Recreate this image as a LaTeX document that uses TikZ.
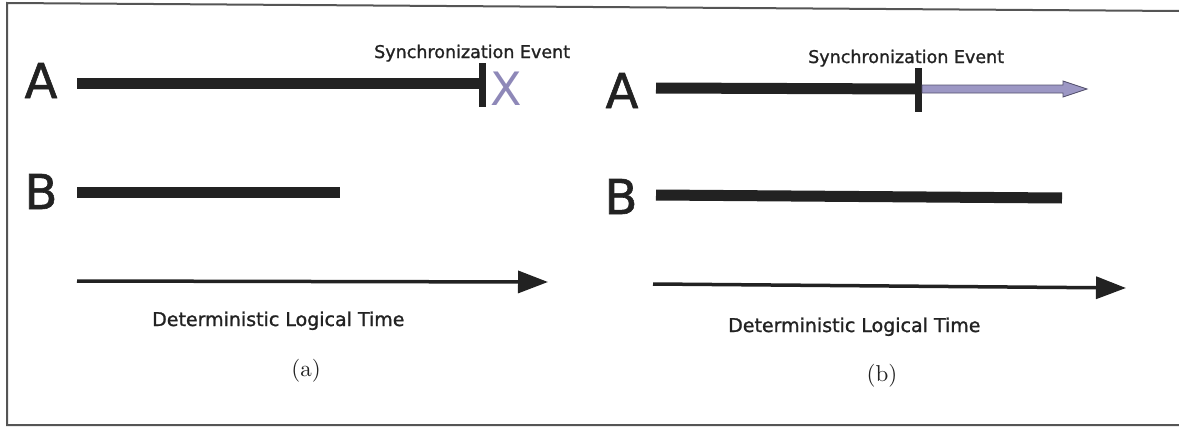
\documentclass[tikz,border=0pt]{standalone}
\usepackage{fontspec}
\setsansfont{DejaVu Sans}
\newfontfamily\heavysans[FakeBold=1.2]{DejaVu Sans}
\usetikzlibrary{arrows.meta}
\definecolor{ink}{HTML}{222222}
\definecolor{lav}{HTML}{8E88B8}
\definecolor{lavfill}{HTML}{9C97C4}
\definecolor{framecol}{HTML}{555555}
\begin{document}
\begin{tikzpicture}[x=1pt,y=-1pt,
  bar/.style={draw=ink,line width=11pt},
  ticklin/.style={draw=ink,line width=7pt},
  axis/.style={draw=ink,line width=3.5pt,-{Triangle[length=30pt,width=22pt]}},
  big/.style={font=\heavysans\fontsize{48}{48}\selectfont,text=ink,inner sep=0pt},
  lbl/.style={font=\heavysans\fontsize{17.5}{18}\selectfont,text=ink,inner sep=0pt},
  tlbl/.style={font=\heavysans\fontsize{19}{20}\selectfont,text=ink,inner sep=0pt},
  sublbl/.style={text=ink,inner sep=0pt}]
\useasboundingbox (0,0) rectangle (1179,431);
% frame
\coordinate (f1) at (1179,11);
\coordinate (f2) at (7,3);
\coordinate (f3) at (7,425);
\coordinate (f4) at (1179,425);
\draw[draw=framecol,line width=2pt] (f1) -- (f2) -- (f3) -- (f4);
% ---------- panel (a)
\node[big,anchor=base] (Aa) at (41,98) {A};
\node[big,anchor=base] (Ba) at (41,209) {B};
\coordinate (aA0) at (77,83);
\coordinate (aA1) at (482,83);
\draw[bar] (aA0) -- (aA1);
\coordinate (aT0) at (482,63);
\coordinate (aT1) at (482,107);
\draw[ticklin] (aT0) -- (aT1);
\node[font=\sffamily\fontsize{46}{46}\selectfont,text=lav,inner sep=0pt,anchor=base] (X) at (506,105) {X};
\node[lbl,anchor=base west] (syncA) at (374,58) {Synchronization Event};
\coordinate (aB0) at (77,192);
\coordinate (aB1) at (340,192);
\draw[bar] (aB0) -- (aB1);
\coordinate (aX0) at (77,281);
\coordinate (aX1) at (548,282);
\draw[axis] (aX0) -- (aX1);
\node[tlbl,anchor=base west] (detA) at (152,326) {Deterministic Logical Time};
\node[sublbl,anchor=center] (capA) at (306,371) {\scalebox{2.3}{(a)}};
% ---------- panel (b)
\node[big,anchor=base] (Ab) at (622,108) {A};
\node[big,anchor=base] (Bb) at (621,214) {B};
\coordinate (bA0) at (656,88);
\coordinate (bA1) at (918,89);
\draw[bar] (bA0) -- (bA1);
\coordinate (bT0) at (918,68);
\coordinate (bT1) at (918,112);
\draw[ticklin] (bT0) -- (bT1);
% purple arrow
\coordinate (p0) at (922,85);
\coordinate (p1) at (1063,85);
\coordinate (p2) at (1063,81);
\coordinate (p3) at (1087,89);
\coordinate (p4) at (1063,97);
\coordinate (p5) at (1063,93);
\coordinate (p6) at (922,93);
\draw[fill=lavfill,draw=lav!60!black,line width=0.8pt,line join=miter]
  (p0) -- (p1) -- (p2) -- (p3) -- (p4) -- (p5) -- (p6) -- cycle;
\node[lbl,anchor=base west] (syncB) at (808,63) {Synchronization Event};
\coordinate (bB0) at (656,195);
\coordinate (bB1) at (1062,198);
\draw[bar] (bB0) -- (bB1);
\coordinate (bX0) at (653,284);
\coordinate (bX1) at (1126,288);
\draw[axis] (bX0) -- (bX1);
\node[tlbl,anchor=base west] (detB) at (728,332) {Deterministic Logical Time};
\node[sublbl,anchor=center] (capB) at (882,376) {\scalebox{2.3}{(b)}};
\end{tikzpicture}
\end{document}
